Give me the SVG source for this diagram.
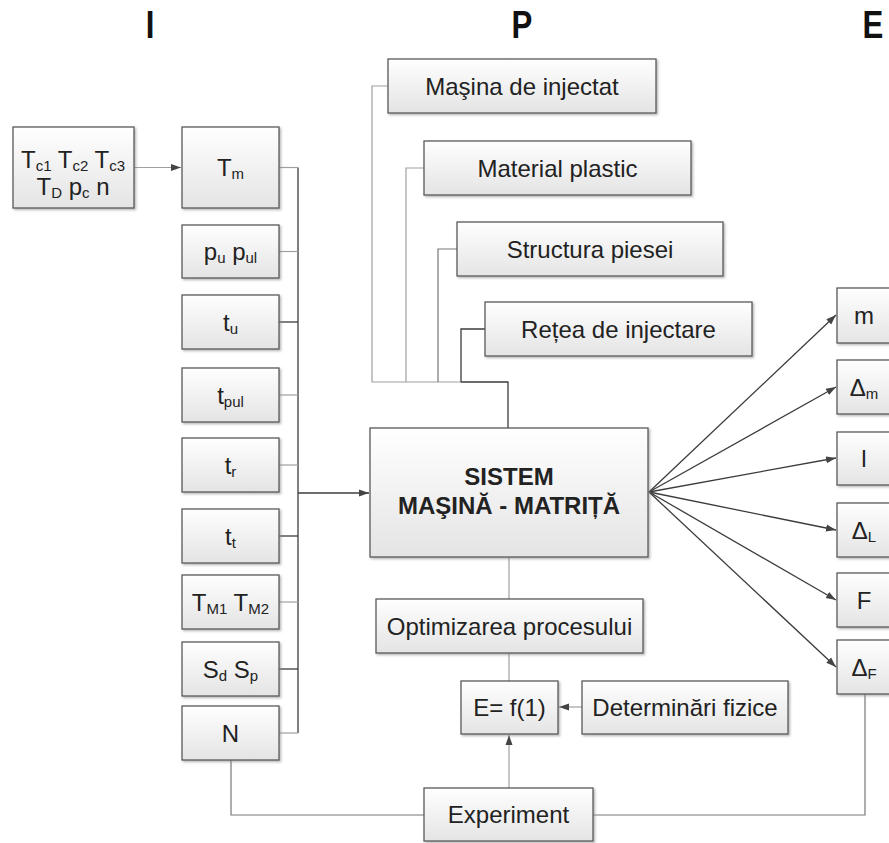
<svg xmlns="http://www.w3.org/2000/svg" width="889" height="843" viewBox="0 0 889 843">
<style>
text{font-family:"Liberation Sans",Arial,sans-serif;font-size:24px;fill:#222}
.sub{font-size:15px}
.hdr{font-weight:bold;font-size:39px;fill:#111}
.bold{font-weight:bold}
.box{fill:url(#g);stroke:#5a5a5a;stroke-width:1.3;filter:url(#sh)}
.dk{fill:none;stroke:#3c3c3c;stroke-width:1.3}
.lt{fill:none;stroke:#a0a0a0;stroke-width:1.2}
.md{fill:none;stroke:#777;stroke-width:1.2}
</style>
<defs>
<linearGradient id="g" x1="0" y1="0" x2="0" y2="1"><stop offset="0" stop-color="#ffffff"/><stop offset="1" stop-color="#e4e4e4"/></linearGradient>
<filter id="sh" x="-10%" y="-10%" width="130%" height="130%"><feDropShadow dx="1.5" dy="1.5" stdDeviation="1" flood-color="#888" flood-opacity="0.6"/></filter>
<marker id="ar" markerUnits="userSpaceOnUse" markerWidth="10" markerHeight="8" refX="10" refY="4" orient="auto"><path d="M0,0.5 L10,4 L0,7.5 z" fill="#444"/></marker>
</defs>
<g id="headers">
<text class="hdr" text-anchor="middle" transform="translate(150,38) scale(0.8,1)">I</text>
<text class="hdr" text-anchor="middle" transform="translate(522,38) scale(0.8,1)">P</text>
<text class="hdr" text-anchor="middle" transform="translate(873,38) scale(0.8,1)">E</text>
</g>
<g id="connectors">
<line class="lt" x1="134" y1="167.5" x2="181" y2="167.5" marker-end="url(#ar)"/>
<line class="dk" x1="298" y1="167.5" x2="298" y2="733"/>
<line class="lt" x1="279" y1="167.5" x2="298" y2="167.5"/>
<line class="lt" x1="279" y1="251.5" x2="298" y2="251.5"/>
<line class="dk" x1="279" y1="322" x2="298" y2="322"/>
<line class="lt" x1="279" y1="395" x2="298" y2="395"/>
<line class="lt" x1="279" y1="465" x2="298" y2="465"/>
<line class="dk" x1="279" y1="536" x2="298" y2="536"/>
<line class="lt" x1="279" y1="602" x2="298" y2="602"/>
<line class="dk" x1="279" y1="669" x2="298" y2="669"/>
<line class="lt" x1="279" y1="733" x2="298" y2="733"/>
<line class="dk" x1="298" y1="493" x2="369" y2="493" marker-end="url(#ar)"/>
<polyline class="lt" points="388,86 372,86 372,382 461,382"/>
<polyline class="lt" points="424,168 406,168 406,382"/>
<polyline class="md" points="457,249 438,249 438,382"/>
<polyline class="dk" points="485,329 461,329 461,382"/>
<polyline class="dk" points="461,382 508,382 508,428"/>
<line class="dk" x1="649" y1="492" x2="836" y2="315" marker-end="url(#ar)"/>
<line class="dk" x1="649" y1="492" x2="836" y2="387" marker-end="url(#ar)"/>
<line class="dk" x1="649" y1="492" x2="836" y2="458" marker-end="url(#ar)"/>
<line class="dk" x1="649" y1="492" x2="836" y2="530" marker-end="url(#ar)"/>
<line class="dk" x1="649" y1="492" x2="836" y2="600" marker-end="url(#ar)"/>
<line class="dk" x1="649" y1="492" x2="836" y2="667" marker-end="url(#ar)"/>
<line class="lt" x1="509" y1="557" x2="509" y2="599"/>
<line class="lt" x1="509" y1="653" x2="509" y2="681"/>
<line class="lt" x1="582" y1="707" x2="559" y2="707" marker-end="url(#ar)"/>
<line class="lt" x1="509" y1="788" x2="509" y2="735" marker-end="url(#ar)"/>
<polyline class="md" points="231,760 231,815 424,815"/>
<polyline class="md" points="593,815 865,815 865,694"/>
</g>
<g id="n_tc"><rect class="box" x="13" y="127" width="121" height="81"/>
<text x="73" y="168" text-anchor="middle">T<tspan class="sub" dy="3">c1</tspan><tspan dy="-3"> T</tspan><tspan class="sub" dy="3">c2</tspan><tspan dy="-3"> T</tspan><tspan class="sub" dy="3">c3</tspan></text>
<text x="73" y="195" text-anchor="middle">T<tspan class="sub" dy="3">D</tspan><tspan dy="-3"> p</tspan><tspan class="sub" dy="3">c</tspan><tspan dy="-3"> n</tspan></text></g>
<g id="n_tm"><rect class="box" x="182" y="127" width="97" height="81"/><text x="230.5" y="176" text-anchor="middle">T<tspan class="sub" dy="3">m</tspan></text></g>
<g id="n_pu"><rect class="box" x="182" y="225" width="97" height="53"/><text x="230.5" y="260" text-anchor="middle">p<tspan class="sub" dy="3">u</tspan><tspan dy="-3"> p</tspan><tspan class="sub" dy="3">ul</tspan></text></g>
<g id="n_tu"><rect class="box" x="182" y="295" width="97" height="54"/><text x="230.5" y="330.5" text-anchor="middle">t<tspan class="sub" dy="3">u</tspan></text></g>
<g id="n_tpul"><rect class="box" x="182" y="368" width="97" height="54"/><text x="230.5" y="403.5" text-anchor="middle">t<tspan class="sub" dy="3">pul</tspan></text></g>
<g id="n_tr"><rect class="box" x="182" y="438" width="97" height="54"/><text x="230.5" y="473.5" text-anchor="middle">t<tspan class="sub" dy="3">r</tspan></text></g>
<g id="n_tt"><rect class="box" x="182" y="509" width="97" height="54"/><text x="230.5" y="544.5" text-anchor="middle">t<tspan class="sub" dy="3">t</tspan></text></g>
<g id="n_tM"><rect class="box" x="182" y="575" width="97" height="54"/><text x="230.5" y="610.5" text-anchor="middle">T<tspan class="sub" dy="3">M1</tspan><tspan dy="-3"> T</tspan><tspan class="sub" dy="3">M2</tspan></text></g>
<g id="n_sd"><rect class="box" x="182" y="642" width="97" height="54"/><text x="230.5" y="677.5" text-anchor="middle">S<tspan class="sub" dy="3">d</tspan><tspan dy="-3"> S</tspan><tspan class="sub" dy="3">p</tspan></text></g>
<g id="n_n"><rect class="box" x="182" y="706" width="97" height="54"/><text x="230.5" y="741.5" text-anchor="middle">N</text></g>
<g id="n_masina"><rect class="box" x="388" y="59" width="268" height="54"/><text x="522" y="94.5" text-anchor="middle">Maşina de injectat</text></g>
<g id="n_material"><rect class="box" x="424" y="141" width="267" height="54"/><text x="557.5" y="176.5" text-anchor="middle">Material plastic</text></g>
<g id="n_structura"><rect class="box" x="457" y="222" width="266" height="54"/><text x="590" y="257.5" text-anchor="middle">Structura piesei</text></g>
<g id="n_retea"><rect class="box" x="485" y="302" width="267" height="54"/><text x="618.5" y="337.5" text-anchor="middle">Rețea de injectare</text></g>
<g id="n_sistem"><rect class="box" x="370" y="428" width="278" height="129"/><text class="bold" x="509" y="485" text-anchor="middle">SISTEM</text><text class="bold" x="509" y="514" text-anchor="middle">MAŞINĂ - MATRIȚĂ</text></g>
<g id="n_optim"><rect class="box" x="376" y="599" width="267" height="54"/><text x="509.5" y="634.5" text-anchor="middle">Optimizarea procesului</text></g>
<g id="n_ef"><rect class="box" x="461" y="681" width="97" height="53"/><text x="509.5" y="716" text-anchor="middle">E= f(1)</text></g>
<g id="n_det"><rect class="box" x="582" y="681" width="206" height="53"/><text x="685" y="716" text-anchor="middle">Determinări fizice</text></g>
<g id="n_exp"><rect class="box" x="424" y="788" width="169" height="53"/><text x="508.5" y="823" text-anchor="middle">Experiment</text></g>
<g id="n_m"><rect class="box" x="837" y="288" width="56" height="55"/><text x="864" y="324" text-anchor="middle">m</text></g>
<g id="n_dm"><rect class="box" x="837" y="360" width="56" height="54"/><text x="864" y="395.5" text-anchor="middle">Δ<tspan class="sub" dy="3">m</tspan></text></g>
<g id="n_l"><rect class="box" x="837" y="432" width="56" height="53"/><text x="864" y="467" text-anchor="middle">l</text></g>
<g id="n_dL"><rect class="box" x="837" y="503" width="56" height="54"/><text x="864" y="538.5" text-anchor="middle">Δ<tspan class="sub" dy="3">L</tspan></text></g>
<g id="n_F"><rect class="box" x="837" y="573" width="56" height="54"/><text x="864" y="608.5" text-anchor="middle">F</text></g>
<g id="n_dF"><rect class="box" x="837" y="640" width="56" height="54"/><text x="864" y="675.5" text-anchor="middle">Δ<tspan class="sub" dy="3">F</tspan></text></g>
</svg>
